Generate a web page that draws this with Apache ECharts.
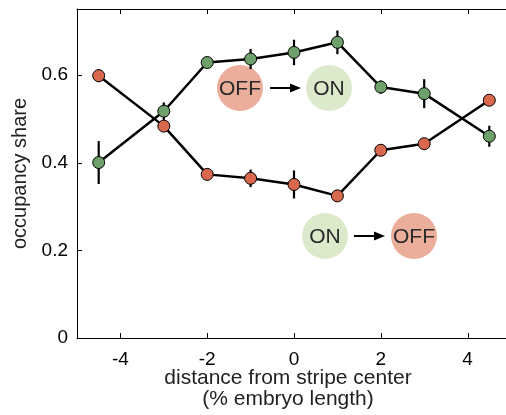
<!DOCTYPE html>
<html><head><meta charset="utf-8">
<script src="https://cdn.jsdelivr.net/npm/echarts@6/dist/echarts.min.js"></script>
<style>html,body{margin:0;padding:0;background:#fff;}#c{width:506px;height:415px;}</style>
</head><body><div id="c"></div>
<script>
var xPositions = [-4.5, -3, -2, -1, 0, 1, 2, 3, 4.5];
var offToOn = [0.400, 0.517, 0.628, 0.636, 0.651, 0.674, 0.572, 0.557, 0.460];
var offToOnErr = [0.049, 0.020, 0.012, 0.023, 0.029, 0.027, 0.015, 0.033, 0.024];
var onToOff = [0.598, 0.483, 0.373, 0.364, 0.350, 0.324, 0.428, 0.443, 0.542];
var onToOffErr = [0.015, 0.012, 0.008, 0.020, 0.032, 0.012, 0.010, 0.012, 0.010];
var xTicks = [-4, -2, 0, 2, 4];
var yTicks = [0, 0.2, 0.4, 0.6];
var X_MIN = -5, X_MAX = 5, Y_MIN = 0, Y_MAX = 0.75;

var RED = '#d9684e', GREEN = '#6da06a';
var FONT = '"Liberation Sans", Arial, sans-serif';

function pts(v){ return xPositions.map(function(x,i){return [x, v[i]];}); }
function errData(v,e){ return xPositions.map(function(x,i){return [x, v[i]-e[i], v[i]+e[i]];}); }
function errSeries(v,e){
  return {type:'custom', z:2, data: errData(v,e), silent:true,
    renderItem:function(params, api){
      var a = api.coord([api.value(0), api.value(1)]);
      var b = api.coord([api.value(0), api.value(2)]);
      return {type:'line', shape:{x1:a[0],y1:a[1],x2:b[0],y2:b[1]}, style:{stroke:'#000', lineWidth:2.2}};
    }};
}
function lineSeries(v,color){
  return {type:'line', z:3, data: pts(v), symbol:'circle', symbolSize:12,
    itemStyle:{color:color, borderColor:'#000', borderWidth:1},
    lineStyle:{color:'#000', width:2.5}, animation:false};
}

var chart = echarts.init(document.getElementById('c'), null, {renderer:'canvas'});
var axisLbl = {fontFamily:FONT, fontSize:19, color:'#000'};
chart.setOption({
  animation:false,
  grid:{left:77, top:9, right:-5, bottom:77, containLabel:false, outerBoundsMode:'none'},
  xAxis:[{type:'value', min:X_MIN, max:X_MAX, position:'bottom',
    axisLine:{onZero:false, lineStyle:{color:'#000', width:1}},
    axisTick:{show:false},
    axisLabel:Object.assign({customValues:xTicks, margin:12}, axisLbl),
    splitLine:{show:false}
  },{type:'value', min:X_MIN, max:X_MAX, position:'top',
    axisLine:{show:true, onZero:false, lineStyle:{color:'#000', width:1}},
    axisTick:{show:false}, axisLabel:{show:false}, splitLine:{show:false}}],
  yAxis:[{type:'value', min:Y_MIN, max:Y_MAX, position:'left',
    axisLine:{show:true, onZero:false, lineStyle:{color:'#000', width:1}},
    axisTick:{show:false},
    axisLabel:Object.assign({customValues:yTicks, margin:9, formatter:function(v){return v===0?'0':String(v);}}, axisLbl),
    splitLine:{show:false},
    name:'occupancy share', nameLocation:'middle', nameGap:43,
    nameTextStyle:{fontFamily:FONT, fontSize:20, color:'#222'}
  },{type:'value', min:Y_MIN, max:Y_MAX, position:'right',
    axisLine:{show:true, onZero:false, lineStyle:{color:'#000'}}, axisTick:{show:false}, axisLabel:{show:false}, splitLine:{show:false}}],
  series:[
    errSeries(offToOn, offToOnErr),
    errSeries(onToOff, onToOffErr),
    lineSeries(onToOff, RED),
    lineSeries(offToOn, GREEN)
  ]
});

// inward tick marks, positioned through the axes' scales
var TICK = 5, tickStyle = {stroke:'#000', lineWidth:1};
var gfx = [];
xTicks.forEach(function(t){
  var b = chart.convertToPixel({xAxisIndex:0, yAxisIndex:0}, [t, Y_MIN]);
  var tp = chart.convertToPixel({xAxisIndex:0, yAxisIndex:0}, [t, Y_MAX]);
  var x = Math.round(b[0]) + 0.5;
  gfx.push({type:'line', z:10, shape:{x1:x, y1:b[1], x2:x, y2:b[1]-TICK}, style:tickStyle});
  gfx.push({type:'line', z:10, shape:{x1:x, y1:tp[1], x2:x, y2:tp[1]+TICK}, style:tickStyle});
});
yTicks.forEach(function(t){
  var p = chart.convertToPixel({xAxisIndex:0, yAxisIndex:0}, [X_MIN, t]);
  var y = Math.round(p[1]) + 0.5;
  gfx.push({type:'line', z:10, shape:{x1:p[0], y1:y, x2:p[0]+TICK, y2:y}, style:tickStyle});
});
gfx = gfx.concat([
  {type:'text', x:288, y:378, style:{text:'distance from stripe center', fontFamily:FONT, fontSize:21, fill:'#222', align:'center', verticalAlign:'middle'}},
  {type:'text', x:288, y:399, style:{text:'(% embryo length)', fontFamily:FONT, fontSize:21, fill:'#222', align:'center', verticalAlign:'middle'}},
  {type:'circle', shape:{cx:240, cy:88, r:23}, style:{fill:'#eaae9a'}, z:1},
  {type:'text', x:240, y:89, style:{text:'OFF', fontFamily:FONT, fontSize:21, fill:'#2a2a2a', align:'center', verticalAlign:'middle'}, z:1},
  {type:'circle', shape:{cx:329, cy:88, r:23}, style:{fill:'#dde9cb'}, z:1},
  {type:'text', x:329, y:89, style:{text:'ON', fontFamily:FONT, fontSize:21, fill:'#2a2a2a', align:'center', verticalAlign:'middle'}, z:1},
  {type:'line', shape:{x1:270, y1:88, x2:292, y2:88}, style:{stroke:'#000', lineWidth:2}, z:1},
  {type:'polygon', shape:{points:[[290,83.5],[301,88],[290,92.5]]}, style:{fill:'#000'}, z:1},
  {type:'circle', shape:{cx:325, cy:236, r:23}, style:{fill:'#dde9cb'}, z:1},
  {type:'text', x:325, y:237, style:{text:'ON', fontFamily:FONT, fontSize:21, fill:'#2a2a2a', align:'center', verticalAlign:'middle'}, z:1},
  {type:'circle', shape:{cx:414, cy:236, r:23}, style:{fill:'#eaae9a'}, z:1},
  {type:'text', x:414, y:237, style:{text:'OFF', fontFamily:FONT, fontSize:21, fill:'#2a2a2a', align:'center', verticalAlign:'middle'}, z:1},
  {type:'line', shape:{x1:354, y1:236, x2:376, y2:236}, style:{stroke:'#000', lineWidth:2}, z:1},
  {type:'polygon', shape:{points:[[374,231.5],[385,236],[374,240.5]]}, style:{fill:'#000'}, z:1}
]);
chart.setOption({graphic: gfx});
</script></body></html>
